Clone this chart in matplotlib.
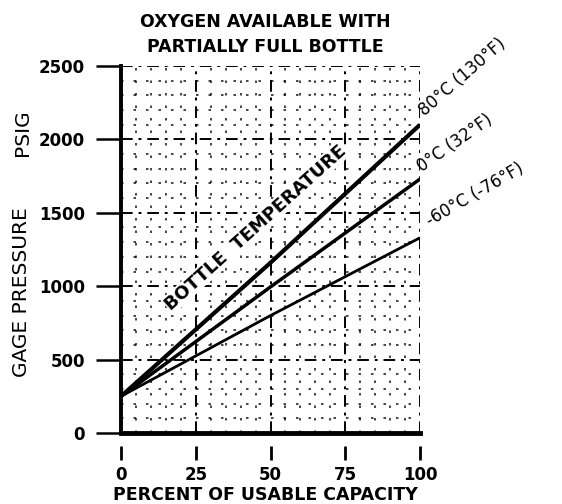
import matplotlib
matplotlib.use("Agg")
import matplotlib.pyplot as plt
from matplotlib.ticker import MultipleLocator

# ---- data ----
percent = [0, 50, 100]
p_80c = [250, 1160, 2100]
p_0c = [250, 995, 1730]
p_m60c = [250, 800, 1330]
series = [
    (p_80c, "80°C (130°F)", 3.0, 41, (7, 5)),
    (p_0c, "0°C (32°F)", 2.5, 35, (4, 3)),
    (p_m60c, "-60°C (-76°F)", 2.0, 30, (12, 8)),
]
xticks = [0, 25, 50, 75, 100]
yticks = [0, 500, 1000, 1500, 2000, 2500]

plt.rcParams['font.family'] = ['DejaVu Sans']
plt.rcParams['font.weight'] = 'bold'
fig = plt.figure(figsize=(5.62, 5.04), dpi=100)
ax = fig.add_axes([121/562, 1-433/504, (420-121)/562, (433-66)/504])

ax.set_xlim(0, 100)
ax.set_ylim(0, 2500)

# grid
ax.xaxis.set_minor_locator(MultipleLocator(5))
ax.yaxis.set_minor_locator(MultipleLocator(100))
ax.grid(which='minor', color='black', linestyle=(0, (1.5, 6)), linewidth=1.2, alpha=0.85)
ax.grid(which='major', color='black', linestyle=(0, (6, 3, 1.5, 3)), linewidth=1.4)
ax.tick_params(which='minor', length=0)

for y, lab, lw, rot, off in series:
    ax.plot(percent, y, color='black', linewidth=lw, solid_capstyle='butt', zorder=5)
    ax.annotate(lab, xy=(percent[-1], y[-1]), xytext=off, textcoords='offset pixels',
                rotation=rot, rotation_mode='anchor', ha='left', va='bottom',
                fontsize=12, fontweight='normal', annotation_clip=False)

ax.text(45, 1400, "BOTTLE  TEMPERATURE", rotation=42, rotation_mode='anchor',
        ha='center', va='center', fontsize=13, fontweight='bold', zorder=6,
        bbox=dict(facecolor='white', edgecolor='none', pad=0.5))

# spines and ticks
ax.spines['top'].set_visible(False)
ax.spines['right'].set_visible(False)
ax.spines['left'].set_linewidth(2.8)
ax.spines['bottom'].set_position(('outward', 9))
ax.spines['bottom'].set_color('none')
ax.axhline(0, color='black', linewidth=3.5, zorder=6, clip_on=False)

ax.set_xticks(xticks)
ax.set_yticks(yticks)
ax.set_xticklabels([str(v) for v in xticks])
ax.set_yticklabels([str(v) for v in yticks])
ax.tick_params(axis='x', which='major', direction='out', length=10, width=2, pad=5, labelsize=12)
ax.tick_params(axis='y', which='major', direction='out', length=18, width=1.8, pad=8, labelsize=12)

fig.text(265/562, 1-22/504, "OXYGEN AVAILABLE WITH", ha='center', va='center', fontsize=12.5, fontweight='bold')
fig.text(265/562, 1-47/504, "PARTIALLY FULL BOTTLE", ha='center', va='center', fontsize=12.5, fontweight='bold')
fig.text(265/562, 1-495/504, "PERCENT OF USABLE CAPACITY", ha='center', va='center', fontsize=12.5, fontweight='bold')
fig.text(22/562, 1-292/504, "GAGE PRESSURE", ha='center', va='center', rotation=90, fontsize=14.5, fontweight='normal')
fig.text(22/562, 1-133/504, "PSIG", ha='center', va='center', rotation=90, fontsize=14.5, fontweight='normal')

fig.savefig("out.png", dpi=100)
